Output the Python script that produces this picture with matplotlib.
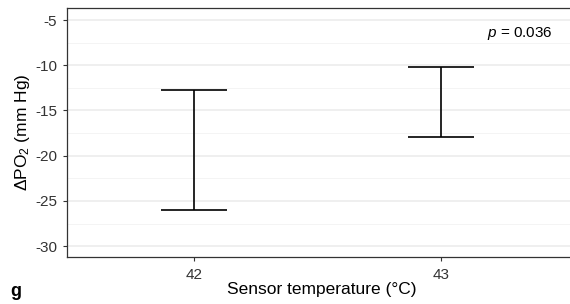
import numpy as np
import matplotlib
matplotlib.use("Agg")
import matplotlib.pyplot as plt

plt.rcParams['font.family'] = ['Liberation Sans', 'DejaVu Sans']
plt.rcParams['mathtext.fontset'] = 'custom'
plt.rcParams['mathtext.rm'] = 'Liberation Sans'
plt.rcParams['mathtext.it'] = 'Liberation Sans:italic'
plt.rcParams['mathtext.default'] = 'regular'
plt.rcParams['axes.unicode_minus'] = False

# data
temps = [42, 43]
upper = [-12.7, -10.2]
lower = [-26.0, -17.9]
yticks = [-5, -10, -15, -20, -25, -30]
p_text = "0.036"

fig = plt.figure(figsize=(5.7, 3.04), dpi=100)
ax = fig.add_axes([67/570, 47/304, 1 - 67/570 + 0.01, 249/304])

# background grid like ggplot theme_bw
for y in yticks:
    ax.axhline(y, color='#EBEBEB', lw=1.1, zorder=0)
for y in np.arange(-32.5, -2, 5):
    ax.axhline(y, color='#F2F2F2', lw=0.6, zorder=0)

half = 0.1325
ax.vlines(temps, lower, upper, color='black', lw=1.2)
ax.hlines(upper, [t - half for t in temps], [t + half for t in temps], color='black', lw=1.2)
ax.hlines(lower, [t - half for t in temps], [t + half for t in temps], color='black', lw=1.2)

ax.set_xlim(41.486, 43.545)
ax.set_ylim(-31.2, -3.67)
ax.set_xticks(temps)
ax.set_yticks(yticks)
ax.tick_params(labelsize=11, length=3, width=0.8, color='#333333', labelcolor='#333333')
ax.tick_params(axis='x', pad=5)
ax.tick_params(axis='y', pad=4)

for s in ['left', 'bottom', 'top']:
    ax.spines[s].set_color('#333333')
    ax.spines[s].set_linewidth(0.9)
ax.spines['right'].set_visible(False)

ax.set_xlabel("Sensor temperature (°C)", fontsize=12.5, labelpad=0)
ax.set_ylabel("ΔPO$_2$ (mm Hg)", fontsize=12.5, labelpad=2)

ax.text(43.45, -6.44, "$\\it{p}$ = " + p_text, ha='right', va='center', fontsize=11)
fig.text(10/570, 1 - 292/304, "g", fontsize=13, fontweight='bold', va='center')

fig.savefig("out.png", dpi=100)
